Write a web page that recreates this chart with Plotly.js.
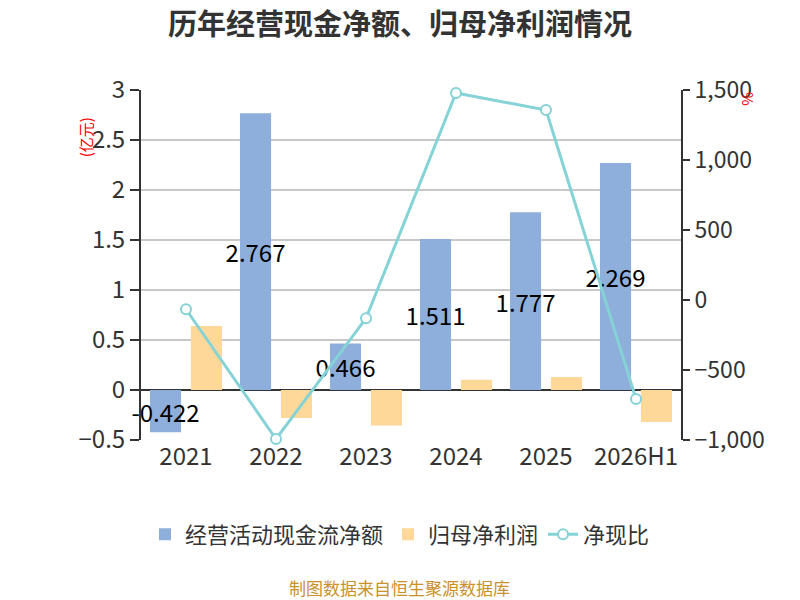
<!DOCTYPE html>
<html>
<head>
<meta charset="utf-8">
<script src="https://cdn.plot.ly/plotly-3.0.1.min.js"></script>
<style>
	html, body {margin:0; padding:0; background:#fff;}
	#myDiv {width:800px; height:600px;}
</style>
</head>
<body>
<div id="myDiv"></div>
<script>
// chart data
var years = ['2021', '2022', '2023', '2024', '2025', '2026H1'];
var cashFlow = [-0.422, 2.767, 0.466, 1.511, 1.777, 2.269];      // 经营活动现金流净额 (亿元)
var netProfit = [0.64, -0.279, -0.355, 0.102, 0.131, -0.321];    // 归母净利润 (亿元)
var cashRatio = [-66, -993, -131, 1479, 1357, -707];             // 净现比 (%)

var font = 'Noto Sans CJK SC, Noto Sans, sans-serif';

var trace1 = {
	x: years,
	y: cashFlow,
	name: '经营活动现金流净额',
	type: 'bar',
	marker: {color: '#8eaedb'},
	text: cashFlow.map(function(v){ return String(v); }),
	textposition: 'inside',
	insidetextanchor: 'middle',
	constraintext: 'none',
	cliponaxis: false,
	textangle: 0,
	insidetextfont: {color: '#000', size: 24, family: font},
	hoverinfo: 'x+y'
};
var trace2 = {
	x: years,
	y: netProfit,
	name: '归母净利润',
	type: 'bar',
	marker: {color: '#fed898'},
	hoverinfo: 'x+y'
};
var trace3 = {
	x: years,
	y: cashRatio,
	name: '净现比',
	type: 'scatter',
	mode: 'lines+markers',
	yaxis: 'y2',
	cliponaxis: false,
	line: {color: '#85d3d6', width: 3},
	marker: {symbol: 'circle', size: 10, color: '#fff', line: {color: '#85d3d6', width: 2}}
};

var layout = {
	width: 800,
	height: 600,
	paper_bgcolor: '#fff',
	plot_bgcolor: '#fff',
	font: {family: font, color: '#333', size: 20},
	title: {
		text: '<b>历年经营现金净额、归母净利润情况</b>',
		font: {size: 29, color: '#333', family: font},
		x: 0.5, xref: 'container',
		y: 0.958, yref: 'container', yanchor: 'middle'
	},
	margin: {l: 141, r: 119, t: 90, b: 160, pad: 0},
	barmode: 'group',
	bargap: 0.09,
	bargroupgap: 0.24,
	showlegend: true,
	legend: {
		orientation: 'h',
		x: 0.4796,
		xanchor: 'center',
		y: -0.27,
		yanchor: 'middle',
		font: {size: 22, color: '#333'},
		itemwidth: 30
	},
	xaxis: {
		type: 'category',
		showgrid: false,
		showline: false,
		zeroline: false,
		ticks: '',
		tickfont: {size: 24, color: '#333'}
	},
	yaxis: {
		range: [-0.5, 3],
		dtick: 0.5,
		tick0: 0,
		showline: true,
		linecolor: '#333',
		linewidth: 2,
		ticks: 'outside',
		ticklen: 9,
		tickwidth: 2,
		tickcolor: '#333',
		tickfont: {size: 24, color: '#333'},
		gridcolor: '#c8c8c8',
		gridwidth: 2,
		zeroline: true,
		zerolinecolor: '#333',
		zerolinewidth: 2
	},
	yaxis2: {
		overlaying: 'y',
		side: 'right',
		range: [-1000, 1500],
		dtick: 500,
		tick0: 0,
		tickformat: ',',
		showline: true,
		linecolor: '#333',
		linewidth: 2,
		ticks: 'outside',
		ticklen: 7,
		tickwidth: 2,
		tickcolor: '#333',
		tickfont: {size: 23, color: '#333'},
		showgrid: false,
		zeroline: false
	},
	annotations: [
		{
			text: '(亿元)', xref: 'paper', yref: 'paper',
			x: -0.126, y: 0.929, textangle: -90, showarrow: false,
			font: {size: 15, color: '#ff0000'}
		},
		{
			text: '%', xref: 'paper', yref: 'paper',
			x: 1.143, y: 1.0, textangle: -90, showarrow: false,
			font: {size: 15, color: '#ff0000'}
		},
		{
			text: '制图数据来自恒生聚源数据库', xref: 'paper', yref: 'paper',
			x: 0.4796, y: -0.42, yanchor: 'middle', showarrow: false,
			font: {size: 17, color: '#c9912b'}
		}
	]
};

Plotly.newPlot('myDiv', [trace1, trace2, trace3], layout, {displayModeBar: false, responsive: false});
</script>
</body>
</html>
